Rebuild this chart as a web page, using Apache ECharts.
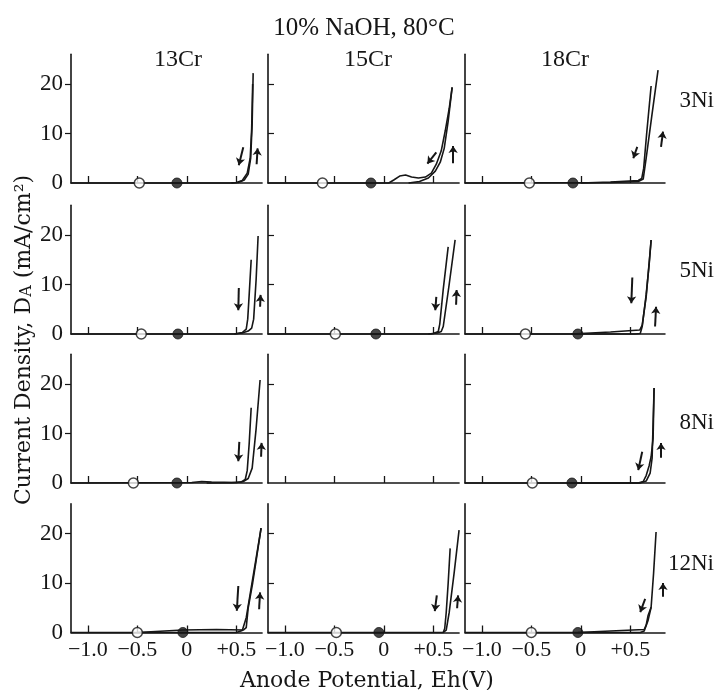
<!DOCTYPE html>
<html><head><meta charset="utf-8">
<script src="https://cdn.jsdelivr.net/npm/echarts@6/dist/echarts.min.js"></script>
<style>html,body{margin:0;padding:0;background:#fff}#c{width:717px;height:690px}</style>
</head><body><div id="c"></div>
<script>
// ---------- labels ----------
const mainTitle = '10% NaOH, 80°C';
const crLabels = ['13Cr', '15Cr', '18Cr'];
const niLabels = ['3Ni', '5Ni', '8Ni', '12Ni'];
const xTickValues = [-1.0, -0.5, 0, 0.5];
const xTickLabels = ['−1.0', '−0.5', '0', '+0.5'];
const yTickValues = [0, 10, 20];
const yTickLabels = ['0', '10', '20'];

// ---------- data (x: Eh in V, y: current density mA/cm²) ----------
// 13Cr-3Ni
const fwd_13Cr_3Ni = [[-1.17,0],[0.45,0],[0.52,0.1],[0.58,0.6],[0.62,1.8],[0.645,5],[0.66,12],[0.67,22.2]];
const rev_13Cr_3Ni = [[0.665,20],[0.655,11],[0.64,5],[0.61,2],[0.56,0.5],[0.5,0.1],[0.45,0]];
const arrDn_13Cr_3Ni = [[0.57,7.2],[0.525,3.6]];
const arrUp_13Cr_3Ni = [[0.705,3.8],[0.715,7]];
// 15Cr-3Ni
const fwd_15Cr_3Ni = [[-1.17,0],[0.05,0],[0.1,0.6],[0.16,1.4],[0.22,1.6],[0.28,1.2],[0.35,1.0],[0.42,1.2],[0.48,2],[0.53,3.8],[0.58,6.5],[0.62,10.5],[0.66,15],[0.69,19.3]];
const rev_15Cr_3Ni = [[0.69,19.3],[0.65,12.5],[0.61,7],[0.57,4.2],[0.52,2.4],[0.45,1.0],[0.36,0.3],[0.25,0]];
const arrDn_15Cr_3Ni = [[0.53,6.2],[0.44,3.9]];
const arrUp_15Cr_3Ni = [[0.70,4.0],[0.70,7.5]];
// 18Cr-3Ni
const fwd_18Cr_3Ni = [[-1.17,0],[0.3,0.1],[0.58,0.3],[0.63,0.8],[0.66,5],[0.72,14],[0.78,22.8]];
const rev_18Cr_3Ni = [[0.71,19.6],[0.665,10],[0.635,3],[0.615,0.9],[0.58,0.5],[0.3,0.2],[0,0]];
const arrDn_18Cr_3Ni = [[0.57,7.3],[0.53,5.0]];
const arrUp_18Cr_3Ni = [[0.81,7.3],[0.83,10.4]];
// 13Cr-5Ni
const fwd_13Cr_5Ni = [[-1.17,0],[0.48,0],[0.56,0.2],[0.62,0.6],[0.655,1.2],[0.675,3],[0.7,11],[0.72,19.8]];
const rev_13Cr_5Ni = [[0.65,15],[0.63,8],[0.615,3],[0.6,1],[0.56,0.3],[0.48,0]];
const arrDn_13Cr_5Ni = [[0.525,9.3],[0.52,4.8]];
const arrUp_13Cr_5Ni = [[0.74,5.5],[0.745,7.9]];
// 15Cr-5Ni
const fwd_15Cr_5Ni = [[-1.17,0],[0.45,0],[0.54,0.2],[0.58,0.5],[0.6,1.5],[0.66,10],[0.72,19]];
const rev_15Cr_5Ni = [[0.65,17.6],[0.6,9],[0.565,2],[0.55,0.5],[0.5,0.1],[0.45,0]];
const arrDn_15Cr_5Ni = [[0.53,7.5],[0.52,4.8]];
const arrUp_15Cr_5Ni = [[0.73,5.9],[0.735,8.9]];
// 18Cr-5Ni
const fwd_18Cr_5Ni = [[-1.17,0],[0.55,0],[0.6,0.1],[0.62,1.5],[0.66,8],[0.69,14],[0.71,19]];
const rev_18Cr_5Ni = [[0.71,19],[0.66,7.5],[0.62,1.8],[0.595,0.8],[0.3,0.4],[0,0.1],[-0.1,0]];
const arrDn_18Cr_5Ni = [[0.52,11.4],[0.51,6.2]];
const arrUp_18Cr_5Ni = [[0.75,1.5],[0.76,5.5]];
// 13Cr-8Ni
const fwd_13Cr_8Ni = [[-1.17,0],[0.05,0.1],[0.15,0.3],[0.25,0.2],[0.5,0.1],[0.57,0.3],[0.62,0.9],[0.66,3],[0.7,11],[0.74,20.8]];
const rev_13Cr_8Ni = [[0.65,15.2],[0.63,8],[0.61,2.5],[0.59,0.7],[0.55,0.2],[0.45,0.05],[0.2,0]];
const arrDn_13Cr_8Ni = [[0.53,8.3],[0.52,4.4]];
const arrUp_13Cr_8Ni = [[0.75,5.3],[0.755,8.1]];
// 15Cr-8Ni : no curve in the original
const fwd_15Cr_8Ni = [];
const rev_15Cr_8Ni = [];
const arrDn_15Cr_8Ni = null;
const arrUp_15Cr_8Ni = null;
// 18Cr-8Ni
const fwd_18Cr_8Ni = [[-1.17,0],[0.58,0],[0.63,0.3],[0.66,1.5],[0.69,3.5],[0.71,5.3],[0.73,9],[0.74,19.2]];
const rev_18Cr_8Ni = [[0.74,19.2],[0.72,5],[0.7,2],[0.66,0.4],[0.6,0],[-0.1,0]];
const arrDn_18Cr_8Ni = [[0.62,6.3],[0.58,2.6]];
const arrUp_18Cr_8Ni = [[0.81,5.1],[0.81,8.1]];
// 13Cr-12Ni
const fwd_13Cr_12Ni = [[-1.17,0],[0.5,0],[0.56,0.4],[0.6,3],[0.65,9],[0.7,15],[0.75,21.1]];
const rev_13Cr_12Ni = [[0.75,21.1],[0.7,14.5],[0.665,10],[0.645,9.8],[0.62,5],[0.6,1],[0.57,0.5],[0.3,0.6],[-0.04,0.5],[-0.5,0]];
const arrDn_13Cr_12Ni = [[0.52,9.4],[0.505,4.4]];
const arrUp_13Cr_12Ni = [[0.73,4.7],[0.74,8.1]];
// 15Cr-12Ni
const fwd_15Cr_12Ni = [[-1.17,0],[0.6,0],[0.63,0.5],[0.66,4],[0.71,12],[0.76,20.7]];
const rev_15Cr_12Ni = [[0.67,17],[0.65,10],[0.63,4],[0.615,0.8],[0.6,0]];
const arrDn_15Cr_12Ni = [[0.535,7.5],[0.515,4.3]];
const arrUp_15Cr_12Ni = [[0.74,4.9],[0.75,7.5]];
// 18Cr-12Ni
const fwd_18Cr_12Ni = [[-1.17,0],[0.6,0],[0.64,0.3],[0.68,2.5],[0.71,5.1],[0.735,12],[0.76,20.3]];
const rev_18Cr_12Ni = [[0.71,5.1],[0.68,3.5],[0.66,1.5],[0.64,0.6],[0.3,0.3],[-0.03,0]];
const arrDn_18Cr_12Ni = [[0.65,6.8],[0.6,4.1]];
const arrUp_18Cr_12Ni = [[0.83,7.2],[0.83,10]];

// rest potentials: open circle, filled circle (x in V), per row [13Cr,15Cr,18Cr]
const openCircleX = [[-0.48,-0.62,-0.52],[-0.46,-0.49,-0.56],[-0.54,null,-0.49],[-0.50,-0.48,-0.50]];
const filledCircleX = [[-0.10,-0.13,-0.08],[-0.09,-0.08,-0.03],[-0.10,null,-0.09],[-0.04,-0.05,-0.03]];

const fwdSets = [[fwd_13Cr_3Ni,fwd_15Cr_3Ni,fwd_18Cr_3Ni],[fwd_13Cr_5Ni,fwd_15Cr_5Ni,fwd_18Cr_5Ni],[fwd_13Cr_8Ni,fwd_15Cr_8Ni,fwd_18Cr_8Ni],[fwd_13Cr_12Ni,fwd_15Cr_12Ni,fwd_18Cr_12Ni]];
const revSets = [[rev_13Cr_3Ni,rev_15Cr_3Ni,rev_18Cr_3Ni],[rev_13Cr_5Ni,rev_15Cr_5Ni,rev_18Cr_5Ni],[rev_13Cr_8Ni,rev_15Cr_8Ni,rev_18Cr_8Ni],[rev_13Cr_12Ni,rev_15Cr_12Ni,rev_18Cr_12Ni]];
const dnSets = [[arrDn_13Cr_3Ni,arrDn_15Cr_3Ni,arrDn_18Cr_3Ni],[arrDn_13Cr_5Ni,arrDn_15Cr_5Ni,arrDn_18Cr_5Ni],[arrDn_13Cr_8Ni,arrDn_15Cr_8Ni,arrDn_18Cr_8Ni],[arrDn_13Cr_12Ni,arrDn_15Cr_12Ni,arrDn_18Cr_12Ni]];
const upSets = [[arrUp_13Cr_3Ni,arrUp_15Cr_3Ni,arrUp_18Cr_3Ni],[arrUp_13Cr_5Ni,arrUp_15Cr_5Ni,arrUp_18Cr_5Ni],[arrUp_13Cr_8Ni,arrUp_15Cr_8Ni,arrUp_18Cr_8Ni],[arrUp_13Cr_12Ni,arrUp_15Cr_12Ni,arrUp_18Cr_12Ni]];

// ---------- layout ----------
const X_MIN = -1.17;
const xMaxByCol = [0.76, 0.76, 0.85];
const colLeft = [71, 268, 465];
const PX_PER_V = 99;
const Y_MIN = 0, Y_MAX = 26;
const PX_PER_UNIT = 4.95;
const rowZero = [183, 334, 483, 632.5];
const SERIF = '"Liberation Serif", "Times New Roman", serif';
const SERIF2 = '"DejaVu Serif", serif';
const INK = '#161616';

const grids = [], xAxes = [], yAxes = [], series = [];
let idx = 0;
for (let r = 0; r < 4; r++) {
  for (let c = 0; c < 3; c++) {
    const h = (Y_MAX - Y_MIN) * PX_PER_UNIT;
    grids.push({left: colLeft[c], top: rowZero[r] - h, width: (xMaxByCol[c] - X_MIN) * PX_PER_V, height: h});
    xAxes.push({
      gridIndex: idx, type: 'value', min: X_MIN, max: xMaxByCol[c],
      axisLine: {show: true, onZero: false, lineStyle: {color: INK, width: 1.6}},
      axisTick: {show: true, inside: true, length: 7, customValues: xTickValues, lineStyle: {color: INK, width: 1.3}},
      axisLabel: {show: r === 3, customValues: xTickValues, margin: 7,
        formatter: v => { const i = xTickValues.findIndex(t => Math.abs(t - v) < 1e-6); return i >= 0 ? xTickLabels[i] : ''; },
        color: INK, fontFamily: SERIF, fontSize: 22},
      splitLine: {show: false}
    });
    yAxes.push({
      gridIndex: idx, type: 'value', min: Y_MIN, max: Y_MAX,
      axisLine: {show: true, onZero: false, lineStyle: {color: INK, width: 1.6}},
      axisTick: {show: true, inside: c !== 0, length: 6, customValues: [10, 20], lineStyle: {color: INK, width: 1.2}},
      axisLabel: {show: c === 0, customValues: yTickValues, margin: 8,
        formatter: v => { const i = yTickValues.indexOf(v); return i >= 0 ? yTickLabels[i] : ''; },
        color: INK, fontFamily: SERIF, fontSize: 23},
      splitLine: {show: false}
    });
    const common = {xAxisIndex: idx, yAxisIndex: idx};
    if (fwdSets[r][c].length) series.push(Object.assign({type: 'line', data: fwdSets[r][c], showSymbol: false, clip: false, silent: true,
      lineStyle: {color: INK, width: 1.6}}, common));
    if (revSets[r][c].length) series.push(Object.assign({type: 'line', data: revSets[r][c], showSymbol: false, clip: false, silent: true,
      lineStyle: {color: INK, width: 1.6}}, common));
    [dnSets[r][c], upSets[r][c]].forEach(a => {
      if (!a) return;
      series.push(Object.assign({type: 'lines', coordinateSystem: 'cartesian2d', silent: true, clip: false,
        symbol: ['none', 'arrow'], symbolSize: [0, 7],
        lineStyle: {color: INK, width: 2, opacity: 1}, data: [{coords: a}]}, common));
    });
    if (openCircleX[r][c] !== null) series.push(Object.assign({type: 'scatter', data: [[openCircleX[r][c], 0]], symbol: 'circle', symbolSize: 10, z: 5, silent: true, clip: false,
      itemStyle: {color: '#fff', borderColor: INK, borderWidth: 1.5}}, common));
    if (filledCircleX[r][c] !== null) series.push(Object.assign({type: 'scatter', data: [[filledCircleX[r][c], 0]], symbol: 'circle', symbolSize: 10, z: 5, silent: true, clip: false,
      itemStyle: {color: INK, borderColor: INK, borderWidth: 1}}, common));
    idx++;
  }
}

const graphics = [
  {type: 'text', style: {text: mainTitle, x: 364, y: 28, align: 'center', verticalAlign: 'middle', fill: INK, font: '25px ' + SERIF}},
];
const crCenters = [178, 368, 565];
crLabels.forEach((t, i) => graphics.push({type: 'text', style: {text: t, x: crCenters[i], y: 60, align: 'center', verticalAlign: 'middle', fill: INK, font: '24px ' + SERIF}}));
const niY = [101, 271, 423, 564];
niLabels.forEach((t, i) => graphics.push({type: 'text', style: {text: t, x: 714, y: niY[i], align: 'right', verticalAlign: 'middle', fill: INK, font: '23px ' + SERIF}}));
graphics.push({type: 'text', x: 24, y: 340, rotation: Math.PI / 2, style: {
  text: '{n|Current Density, D}{s|A}{n| (mA/cm²)}', x: 0, y: 0, align: 'center', verticalAlign: 'middle',
  rich: {n: {fontFamily: SERIF2, fontSize: 22, fill: INK}, s: {fontFamily: SERIF2, fontSize: 16, fill: INK, padding: [6, 0, 0, 0]}}}});
graphics.push({type: 'text', style: {text: 'Anode Potential, Eh(V)', x: 367, y: 681, align: 'center', verticalAlign: 'middle', fill: INK, font: '22px ' + SERIF2}});

const chart = echarts.init(document.getElementById('c'), null, {renderer: 'canvas'});
chart.setOption({
  animation: false,
  backgroundColor: '#fff',
  grid: grids, xAxis: xAxes, yAxis: yAxes, series: series, graphic: graphics
});
</script></body></html>
